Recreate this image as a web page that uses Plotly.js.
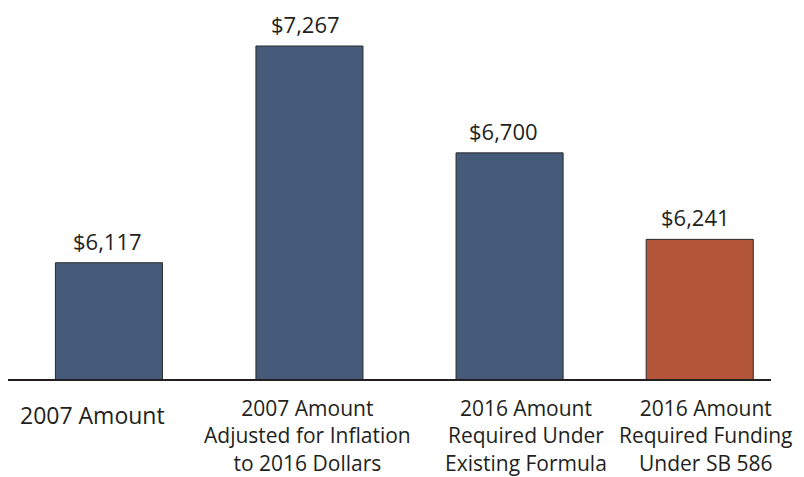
<!DOCTYPE html>
<html>
<head>
<meta charset="utf-8">
<script src="https://cdn.plot.ly/plotly-3.0.1.min.js"></script>
<style>
html, body { margin: 0; padding: 0; background: #ffffff; }
#chart { width: 804px; height: 477px; }
</style>
</head>
<body>
<div id="chart"></div>
<script>
// Data
const categories = [
  "2007 Amount",
  "2007 Amount<br>Adjusted for Inflation<br>to 2016 Dollars",
  "2016 Amount<br>Required Under<br>Existing Formula",
  "2016 Amount<br>Required Funding<br>Under SB 586"
];
const values = [6117, 7267, 6700, 6241];
const valueLabels = ["$6,117", "$7,267", "$6,700", "$6,241"];
const barColors = ["#465b7a", "#465b7a", "#465b7a", "#b35538"];

const textColor = "#231f20";
const fontFamily = "'Open Sans', 'Noto Sans', sans-serif";

// layout-only placement tweaks
const barWidth = 0.543;
const barNudge = [0.001, 0.018, 0.033, -0.0025];
const labelStyle = [
  { dx: -16, dy: -18, size: 23 },
  { dx: 2, dy: -13, size: 21 },
  { dx: 23, dy: -13, size: 21 },
  { dx: 6, dy: -13, size: 21 }
];
const valueShift = [-1, -0.5, 0.5, -5];

const trace = {
  type: "bar",
  x: categories.map((c, i) => i),
  y: values,
  width: barWidth,
  offset: barNudge.map(n => -barWidth / 2 + n),
  marker: { color: barColors, line: { color: "#2b2b2b", width: 1 } },
  hoverinfo: "skip"
};

const annotations = [];
categories.forEach((c, i) => {
  annotations.push({
    x: i, y: 0, xref: "x", yref: "paper",
    text: c, showarrow: false,
    xanchor: "center", yanchor: "top",
    xshift: labelStyle[i].dx, yshift: labelStyle[i].dy,
    align: "center",
    font: { family: fontFamily, size: labelStyle[i].size, color: textColor }
  });
  annotations.push({
    x: i, y: values[i], xref: "x", yref: "y",
    text: valueLabels[i], showarrow: false,
    xanchor: "center", yanchor: "bottom",
    yshift: 5, xshift: valueShift[i],
    font: { family: fontFamily, size: 22, color: textColor }
  });
});

const layout = {
  width: 804, height: 477,
  margin: { l: 8, r: 33, t: 20, b: 98 },
  paper_bgcolor: "#ffffff",
  plot_bgcolor: "#ffffff",
  showlegend: false,
  xaxis: {
    type: "linear",
    range: [-0.511, 3.359],
    showticklabels: false, ticks: "",
    showgrid: false, zeroline: false,
    showline: true, linecolor: textColor, linewidth: 2,
    fixedrange: true
  },
  yaxis: {
    range: [5500, 7405],
    visible: false,
    showgrid: false, zeroline: false,
    fixedrange: true
  },
  annotations: annotations,
  font: { family: fontFamily, color: textColor }
};

Plotly.newPlot("chart", [trace], layout, { displayModeBar: false, staticPlot: true });
</script>
</body>
</html>
